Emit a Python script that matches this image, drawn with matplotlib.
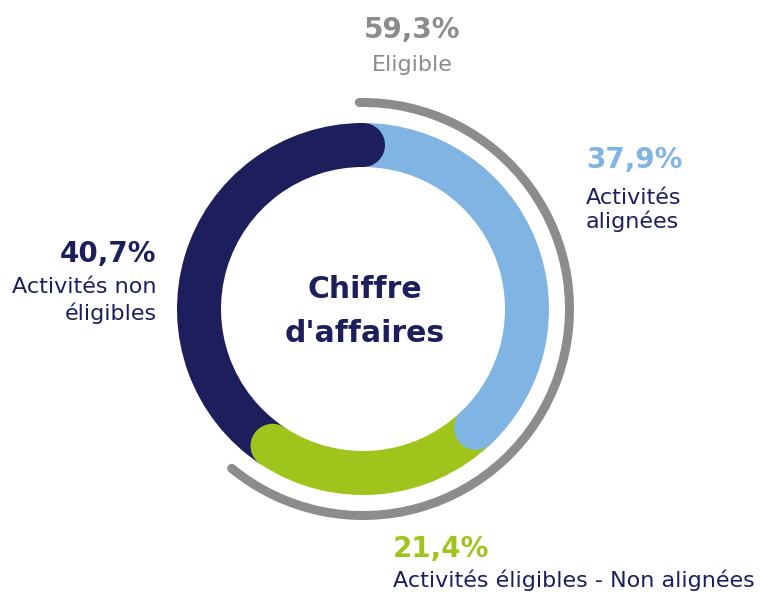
import numpy as np
import matplotlib
matplotlib.use('Agg')
import matplotlib.pyplot as plt
from matplotlib.patches import Wedge, Circle

# data (clockwise from 12 o'clock)
segments = ['Activités alignées', 'Activités éligibles - Non alignées', 'Activités non éligibles']
shares = [37.9, 21.4, 40.7]
colors = ['#80b4e2', '#9fc41c', '#1c1f5c']
eligible_share = 59.3

navy = '#1c1f5c'
grey = '#8c8c8c'
plt.rcParams['font.family'] = ['DejaVu Sans']

fig = plt.figure(figsize=(7.66, 5.95), dpi=100)
ax = fig.add_axes([0, 0, 1, 1])
ax.set_xlim(0, 766)
ax.set_ylim(595, 0)
ax.set_aspect('equal')
ax.axis('off')

cx, cy = 363, 309
r_out, ring_w = 186, 44
r_mid = r_out - ring_w / 2


def pos(angle, r):
    a = np.radians(angle)
    return cx + r * np.sin(a), cy - r * np.cos(a)


# ring segments, then rounded caps on clockwise ends
ends = np.cumsum(shares) / 100 * 360
starts = np.concatenate([[0], ends[:-1]])
for a1, a2, c in zip(starts, ends, colors):
    ax.add_patch(Wedge((cx, cy), r_out, a1 - 90, a2 - 90, width=ring_w, color=c, lw=0))
for a2, c in zip(ends, colors):
    ax.add_patch(Circle(pos(a2, r_mid), ring_w / 2, color=c, lw=0))

# grey outer arc for the eligible part (a bit longer than the segments, as drawn)
g_r, g_w = 211, 9
g_end = eligible_share / 100 * 360 + 6
ax.add_patch(Wedge((cx, cy), g_r, -91, g_end - 90, width=g_w, color=grey, lw=0))
for a in [-1, g_end]:
    ax.add_patch(Circle(pos(a, g_r - g_w / 2), g_w / 2, color=grey, lw=0))

# center title
ax.text(365, 298, 'Chiffre', ha='center', va='baseline', fontsize=21.5, fontweight='bold', color=navy)
ax.text(365, 342, "d'affaires", ha='center', va='baseline', fontsize=21.5, fontweight='bold', color=navy)

# labels
ax.text(412, 38, f'{eligible_share:.1f}%'.replace('.', ','), ha='center', va='baseline',
        fontsize=20, fontweight='bold', color=grey)
ax.text(412, 71, 'Eligible', ha='center', va='baseline', fontsize=16, color=grey)

ax.text(586, 168, f'{shares[0]:.1f}%'.replace('.', ','), ha='left', va='baseline',
        fontsize=20, fontweight='bold', color=colors[0])
ax.text(586, 204, 'Activités', ha='left', va='baseline', fontsize=16, color=navy)
ax.text(586, 228, 'alignées', ha='left', va='baseline', fontsize=16, color=navy)

ax.text(156, 262, f'{shares[2]:.1f}%'.replace('.', ','), ha='right', va='baseline',
        fontsize=20, fontweight='bold', color=navy)
ax.text(157, 293, 'Activités non', ha='right', va='baseline', fontsize=16, color=navy)
ax.text(157, 320, 'éligibles', ha='right', va='baseline', fontsize=16, color=navy)

ax.text(393, 557, f'{shares[1]:.1f}%'.replace('.', ','), ha='left', va='baseline',
        fontsize=20, fontweight='bold', color=colors[1])
ax.text(393, 587, segments[1], ha='left', va='baseline', fontsize=16, color=navy)

fig.savefig('out.png', dpi=100, facecolor='white')
